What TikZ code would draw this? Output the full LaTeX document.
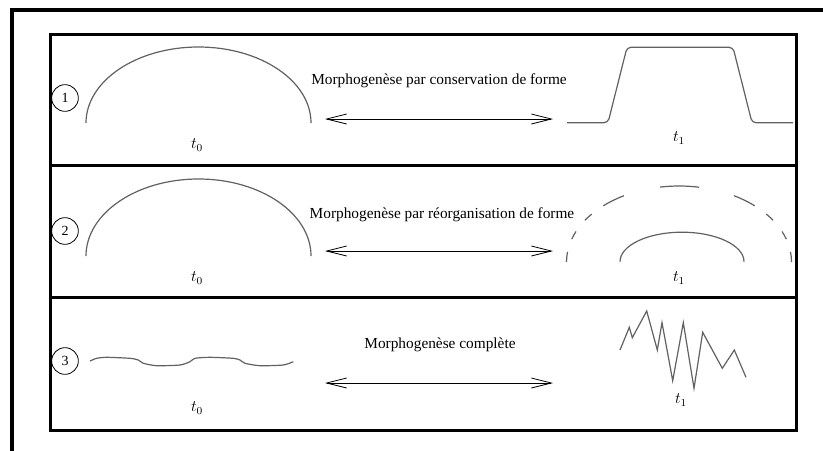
\documentclass[tikz,border=0pt]{standalone}
\usepackage{fontspec}
\setmainfont{Liberation Serif}
\usetikzlibrary{arrows.meta}
\begin{document}
\begin{tikzpicture}[x=0.75pt,y=-0.75pt,
  outerline/.style={line width=3pt,line join=miter},
  frameline/.style={line width=2.25pt},
  numc/.style={circle,draw,line width=0.6pt,inner sep=0pt,minimum size=20pt,font=\fontsize{10.5}{12}\selectfont},
  curve/.style={draw=black!62,line width=0.9pt},
  jag/.style={draw=black!62,line width=0.9pt,line join=miter},
  biarrow/.style={line width=0.6pt,{Straight Barb[length=15pt,width=7.5pt]}-{Straight Barb[length=15pt,width=7.5pt]}},
  caption/.style={inner sep=0pt,font=\fontsize{11.5}{13}\selectfont},
  tlabel/.style={inner sep=0pt,font=\fontsize{11.5}{13}\selectfont}]
\useasboundingbox (0,0) rectangle (823,450);
\fill[white] (0,0) rectangle (823,450);
% outer frame (partly outside the picture)
\draw[outerline] (12,452) -- (12,10) -- (825,10);
% inner frame and row dividers
\draw[frameline] (50,34) rectangle (796,430);
\draw[frameline] (50,165.5) -- (796,165.5);
\draw[frameline] (50,297.5) -- (796,297.5);
% numbers
\node[numc] (c1) at (65,98) {1};
\node[numc] (c2) at (65,231) {2};
\node[numc] (c3) at (65,361) {3};
% captions
\node[caption] (m1) at (439,81) {Morphogenèse par conservation de forme};
\node[caption] (m2) at (442,215) {Morphogenèse par réorganisation de forme};
\node[caption] (m3) at (440,345) {Morphogenèse complète};
% arrows
\coordinate (a1l) at (325,119); \coordinate (a1r) at (553,119);
\coordinate (a2l) at (325,251); \coordinate (a2r) at (553,251);
\coordinate (a3l) at (325,383); \coordinate (a3r) at (553,383);
\draw[biarrow] (a1l) -- (a1r);
\draw[biarrow] (a2l) -- (a2r);
\draw[biarrow] (a3l) -- (a3r);
% labels
\node[tlabel] (t01) at (197,145) {$t_0$};
\node[tlabel] (t11) at (679,138) {$t_1$};
\node[tlabel] (t02) at (197,278) {$t_0$};
\node[tlabel] (t12) at (679,278) {$t_1$};
\node[tlabel] (t03) at (197,408) {$t_0$};
\node[tlabel] (t13) at (681,400) {$t_1$};
% row 1 shapes
\draw[curve] (86,123) arc[start angle=180,end angle=360,x radius=112.5,y radius=76];
\draw[curve,rounded corners=3pt] (567,122.7) -- (608,122.7) -- (627,47.3) -- (733,47.3) -- (752,122.7) -- (793,122.7);
% row 2 shapes
\draw[curve] (86,256) arc[start angle=180,end angle=360,x radius=112.5,y radius=77];
\coordinate (oc) at (679,262);
\foreach \a/\b in {0/7.7, 17.5/23.7, 33.3/39.1, 47.7/60.7, 79.7/99.7, 119.3/132.3, 140.9/146.7, 156.3/162.5, 172.3/180}
  \draw[curve] (oc) ++(-\a:112.5 and 76) arc[start angle=-\a,end angle=-\b,x radius=112.5,y radius=76];
\draw[curve] (620,261.7) arc[start angle=180,end angle=360,x radius=62,y radius=29.5];
% row 3 shapes
\draw[curve] plot[smooth,tension=0.4] coordinates {(90,361) (96.7,358.3) (106.7,357.3) (130,358.3) (138.3,360) (143.3,363.3) (156.7,365.7) (180,365) (190,361.7) (195,358.3) (210,357.3) (233.3,358.3) (240,360) (245,363.3) (260,365.7) (283.3,365) (293.3,361.7)};
\draw[jag] (620,350) -- (629.3,327.3) -- (632.3,337.7) -- (646.7,311) -- (657.3,350) -- (662,322.7) -- (672.7,380.7) -- (683.3,322.7) -- (694,388.3) -- (702.7,332.3) -- (722.3,368.3) -- (734.3,350) -- (746,377.3);
\end{tikzpicture}
\end{document}
